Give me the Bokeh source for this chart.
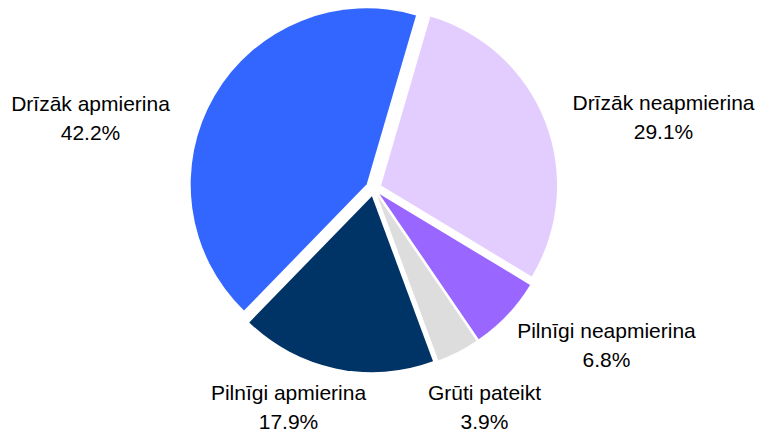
import numpy as np
from bokeh.plotting import figure
from bokeh.models import Range1d, ColumnDataSource
from bokeh.core.properties import value
from bokeh.embed import file_html
from bokeh.resources import INLINE

# ---- data (clockwise order) ----
categories = ["Pilnīgi apmierina", "Drīzāk apmierina", "Drīzāk neapmierina",
              "Pilnīgi neapmierina", "Grūti pateikt"]
values = [17.9, 42.2, 29.1, 6.8, 3.9]
pct_labels = ["17.9%", "42.2%", "29.1%", "6.8%", "3.9%"]
colors = ["#003366", "#3366FF", "#E3CDFF", "#9966FF", "#DDDDDD"]

# ---- layout (page pixel coordinates) ----
W, H = 758, 436
cx, cy_px = 373.1, 187.9      # pie centre (screen px)
radius = 176
explode = 8
start_deg = 159.7             # clockwise from 12 o'clock, first slice start
# label anchors: (centre x, first baseline y) in screen px
label_pos = [(288, 392), (90, 103), (663, 102), (606, 330), (484, 392)]
line_gap = 29

def ys(py):
    return H - py

vals = np.array(values, dtype=float)
frac = vals / vals.sum()
cum = np.concatenate([[0], np.cumsum(frac)]) * 360.0
theta1 = start_deg + cum[:-1]   # clockwise from top
theta2 = start_deg + cum[1:]
mid = np.radians((theta1 + theta2) / 2)

xs = cx + explode * np.sin(mid)
yc = ys(cy_px) + explode * np.cos(mid)
start_a = np.radians(90 - theta2)
end_a = np.radians(90 - theta1)

src = ColumnDataSource(dict(x=xs, y=yc, s=start_a, e=end_a, color=colors))

p = figure(width=W, height=H, output_backend="svg", toolbar_location=None,
           x_range=Range1d(0, W), y_range=Range1d(0, H),
           x_axis_location=None, y_axis_location=None, min_border=0,
           outline_line_color=None, background_fill_color="white",
           border_fill_color="white")
p.grid.visible = False

p.wedge(x="x", y="y", radius=radius, start_angle="s", end_angle="e",
        direction="anticlock", fill_color="color", line_color=None, source=src)

lx = [lp[0] for lp in label_pos]
ly1 = [ys(lp[1]) for lp in label_pos]
ly2 = [ys(lp[1] + line_gap) for lp in label_pos]
lsrc = ColumnDataSource(dict(x=lx, y1=ly1, y2=ly2, name=categories, pct=pct_labels))
common = dict(text_align="center", text_baseline="alphabetic",
              text_font=value("Liberation Sans"), text_font_size="21px",
              text_color="#000000", source=lsrc)
p.text(x="x", y="y1", text="name", **common)
p.text(x="x", y="y2", text="pct", **common)

open("out.html", "w").write(file_html(p, INLINE))
